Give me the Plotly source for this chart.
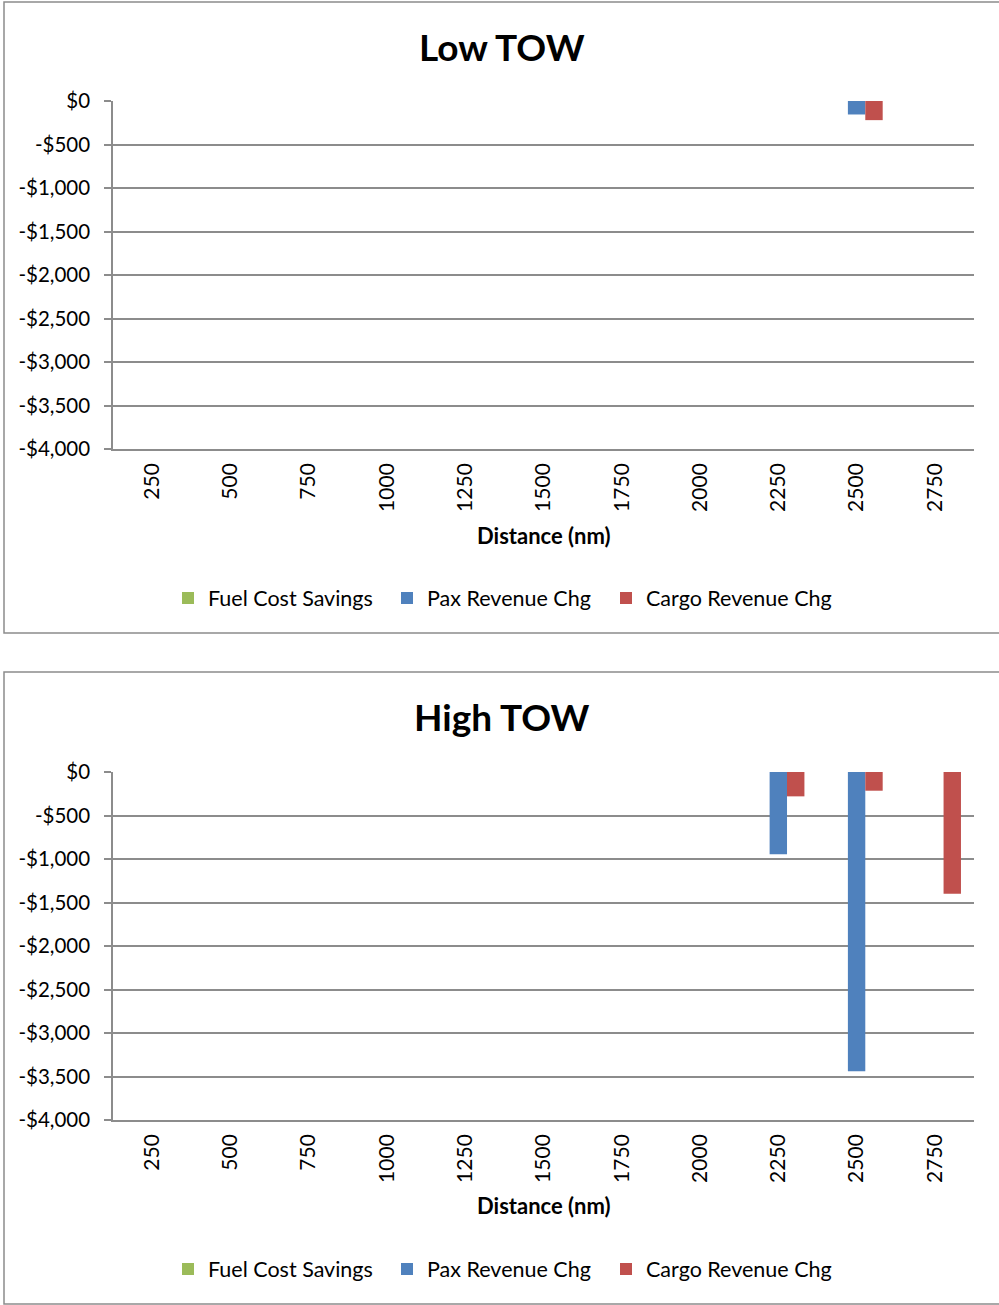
import plotly.graph_objects as go

# Route distances (nm) on the category axis
distances = ["250", "500", "750", "1000", "1250", "1500", "1750", "2000", "2250", "2500", "2750"]

# Low TOW case ($ per flight)
low_fuel = [0, 0, 0, 0, 0, 0, 0, 0, 0, 0, 0]
low_pax = [0, 0, 0, 0, 0, 0, 0, 0, 0, -155, 0]
low_cargo = [0, 0, 0, 0, 0, 0, 0, 0, 0, -220, 0]

# High TOW case ($ per flight)
high_fuel = [0, 0, 0, 0, 0, 0, 0, 0, 0, 0, 0]
high_pax = [0, 0, 0, 0, 0, 0, 0, 0, -945, -3440, 0]
high_cargo = [0, 0, 0, 0, 0, 0, 0, 0, -280, -215, -1400]

y_tickvals = [0, -500, -1000, -1500, -2000, -2500, -3000, -3500, -4000]
y_ticktext = ["$0", "-$500", "-$1,000", "-$1,500", "-$2,000", "-$2,500", "-$3,000", "-$3,500", "-$4,000"]

series_names = ["Fuel Cost Savings", "Pax Revenue Chg", "Cargo Revenue Chg"]
series_colors = ["#9BBB59", "#4F81BD", "#C0504D"]

W, H = 999, 1305
FONT = "Lato"
GRID = "#8C8C8C"

# left edge (px) of each legend entry
LEGEND_X = [168, 387, 606]


def px_x(v):
    return v / W


def px_y(v):
    return 1 - v / H


fig = go.Figure()

charts = [
    {"title": "Low TOW", "data": [low_fuel, low_pax, low_cargo], "x": "x", "y": "y",
     "legends": ["legend", "legend2", "legend3"],
     "top": 101, "bottom": 449, "title_y": 47, "xtitle_y": 535, "leg_y": 598},
    {"title": "High TOW", "data": [high_fuel, high_pax, high_cargo], "x": "x3", "y": "y3",
     "legends": ["legend4", "legend5", "legend6"],
     "top": 772, "bottom": 1120, "title_y": 717, "xtitle_y": 1205, "leg_y": 1269},
]

for c in charts:
    for name, vals, col, leg in zip(series_names, c["data"], series_colors, c["legends"]):
        fig.add_trace(go.Bar(
            x=distances, y=vals, name=name, xaxis=c["x"], yaxis=c["y"],
            marker=dict(color=col, line=dict(width=0)),
            legend=leg, hoverinfo="x+y+name",
        ))

x_dom = [px_x(113), px_x(974)]
axis_font = dict(family=FONT, size=20.5, color="#000000")

layout = dict(
    width=W, height=H,
    margin=dict(l=0, r=0, t=0, b=0, autoexpand=False),
    paper_bgcolor="white", plot_bgcolor="white",
    barmode="group", bargap=0.333, bargroupgap=0,
    showlegend=True,
    font=dict(family=FONT, color="#000000"),
    annotations=[], shapes=[],
)

for i, c in enumerate(charts):
    xa = "xaxis" if i == 0 else "xaxis3"
    xt = "xaxis2" if i == 0 else "xaxis4"
    ya = "yaxis" if i == 0 else "yaxis3"
    ydom = [px_y(c["bottom"]), px_y(c["top"])]
    layout[xa] = dict(
        domain=x_dom, anchor=c["y"], type="category",
        showline=True, linecolor=GRID, linewidth=1.5,
        ticks="", showgrid=False, tickangle=-90,
        tickfont=dict(family=FONT, size=21, color="#000000"), ticklabelstandoff=4,
    )
    # category boundary ticks along the $0 line
    layout[xt] = dict(
        overlaying=c["x"], anchor=c["y"], side="top",
        range=[-0.5, len(distances) - 0.5],
        tickvals=[k - 0.5 for k in range(len(distances) + 1)],
        ticks="inside", ticklen=6, tickwidth=1.5, tickcolor=GRID,
        showline=True, linecolor=GRID, linewidth=1.5,
        showticklabels=False, showgrid=False, zeroline=False,
    )
    layout[ya] = dict(
        domain=ydom, anchor=c["x"], range=[-4000, 0],
        tickvals=y_tickvals, ticktext=y_ticktext,
        showline=True, linecolor=GRID, linewidth=1.5,
        ticks="outside", ticklen=7, tickwidth=1.5, tickcolor=GRID,
        showgrid=True, gridcolor=GRID, gridwidth=1.5, zeroline=False,
        tickfont=axis_font, ticklabelstandoff=10,
    )
    for leg, lx in zip(c["legends"], LEGEND_X):
        layout[leg] = dict(
            orientation="h", x=px_x(lx), xanchor="left",
            y=px_y(c["leg_y"]), yanchor="middle",
            font=dict(family=FONT, size=21.5, color="#000000"),
            bgcolor="rgba(0,0,0,0)",
        )
    layout["annotations"].append(dict(
        text="<b>%s</b>" % c["title"], xref="paper", yref="paper",
        x=px_x(502), y=px_y(c["title_y"]), xanchor="center", yanchor="middle",
        showarrow=False, font=dict(family=FONT, size=37, color="#000000"),
    ))
    layout["annotations"].append(dict(
        text="<b>Distance (nm)</b>", xref="paper", yref="paper",
        x=px_x(544), y=px_y(c["xtitle_y"]), xanchor="center", yanchor="middle",
        showarrow=False, font=dict(family=FONT, size=22, color="#000000"),
    ))

# Chart-area frames
for top, bottom in [(2, 633), (672, 1304)]:
    layout["shapes"].append(dict(
        type="rect", xref="paper", yref="paper",
        x0=px_x(4), x1=px_x(1005), y0=px_y(bottom), y1=px_y(top),
        line=dict(color="#8C8C8C", width=1.5), fillcolor="rgba(0,0,0,0)", layer="below",
    ))

fig.update_layout(**layout)
fig.write_html("out.html")
